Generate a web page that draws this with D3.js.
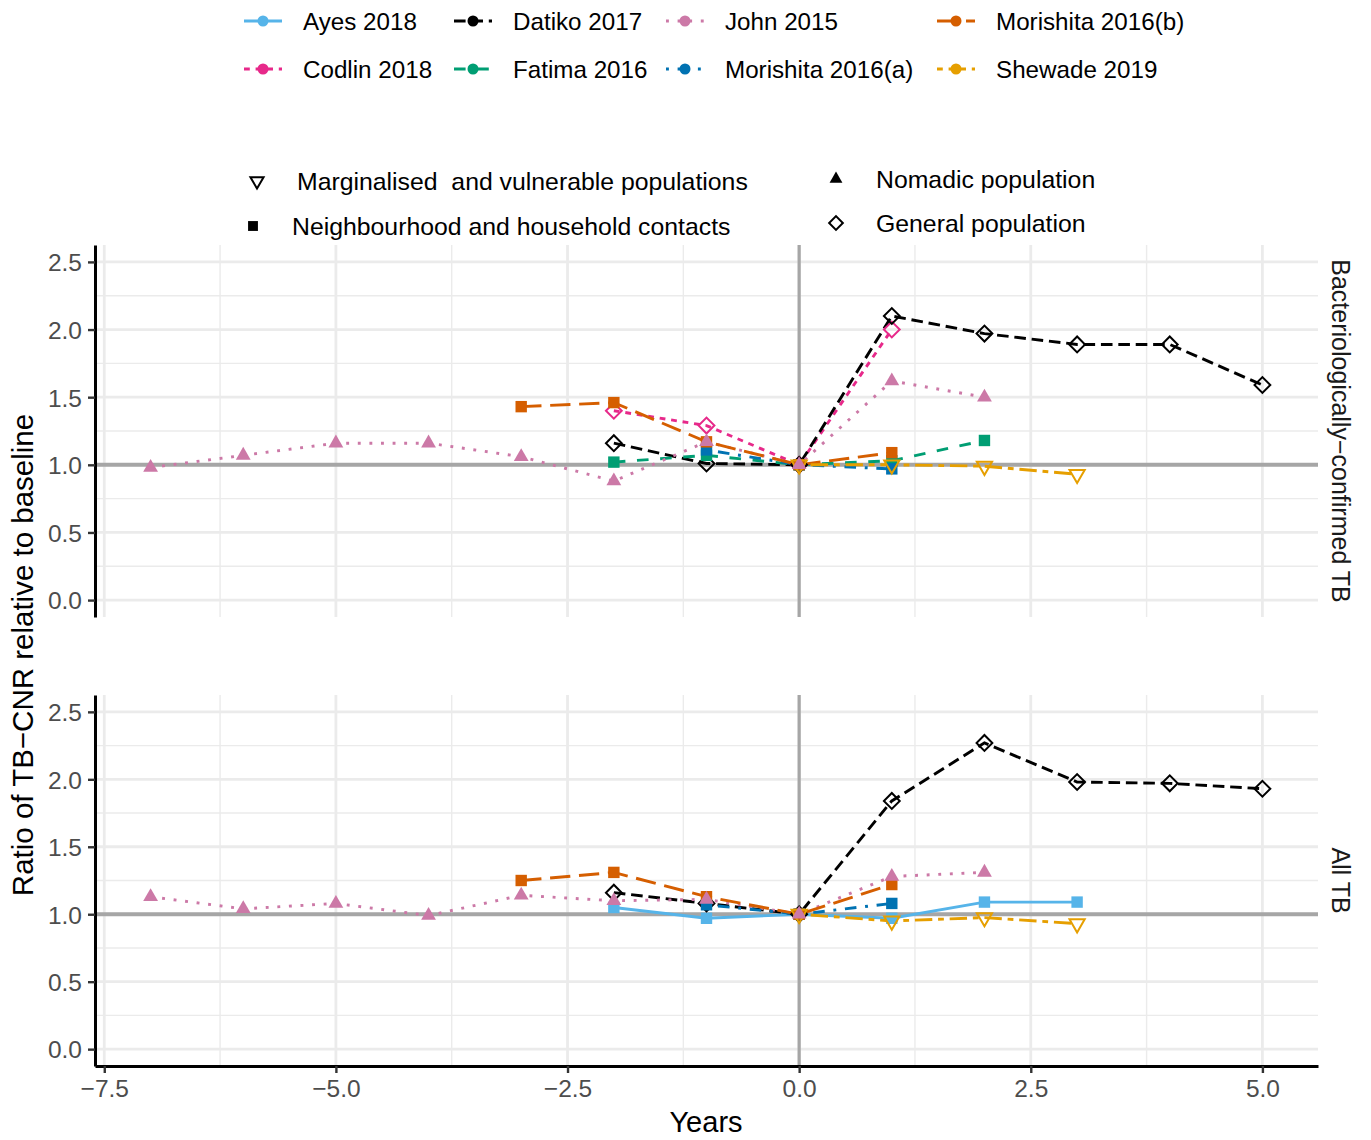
<!DOCTYPE html>
<html>
<head>
<meta charset="utf-8">
<script src="https://cdn.jsdelivr.net/npm/d3@7"></script>
<style>
body { margin: 0; background: #fff; }
svg { font-family: 'Liberation Sans', Arial, sans-serif; }
</style>
</head>
<body>
<div id="chart"></div>
<script>
/* global d3 */

// studies, in legend (alphabetical) order
var studies = ['Ayes 2018', 'Codlin 2018', 'Datiko 2017', 'Fatima 2016', 'John 2015', 'Morishita 2016(a)', 'Morishita 2016(b)', 'Shewade 2019'];
var studyColors = ['#56B4E9', '#E7298A', '#000000', '#009E73', '#CC79A7', '#0072B2', '#D55E00', '#E69F00'];
var studyLinetypes = [[], [2, 2], [4, 2], [4, 4], [1, 3], [1, 3, 4, 3], [7, 3], [2, 2, 6, 2]];
var studyShapes = ['square', 'diamond', 'diamond', 'square', 'triangle', 'square', 'square', 'down'];

var populations = ['Marginalised  and vulnerable populations', 'Nomadic population', 'Neighbourhood and household contacts', 'General population'];
var populationShapes = ['down', 'triangle', 'square', 'diamond'];

var panels = ['Bacteriologically\u2212confirmed TB', 'All TB'];
var xTicks = [-7.5, -5, -2.5, 0, 2.5, 5];
var xMinor = [-6.25, -3.75, -1.25, 1.25, 3.75];
var yTicks = [0, 0.5, 1, 1.5, 2, 2.5];
var yMinor = [0.25, 0.75, 1.25, 1.75, 2.25];

// [year, ratio] pairs, bacteriologically-confirmed TB
var ayesBact = [];
var codlinBact = [[-2, 1.40], [-1, 1.29], [0, 1], [1, 2.00]];
var datikoBact = [[-2, 1.16], [-1, 1.01], [0, 1], [1, 2.10], [2, 1.97], [3, 1.89], [4, 1.89], [5, 1.59]];
var fatimaBact = [[-2, 1.02], [-1, 1.07], [0, 1], [1, 1.03], [2, 1.18]];
var johnBact = [[-7, 0.98], [-6, 1.07], [-5, 1.16], [-4, 1.16], [-3, 1.06], [-2, 0.88], [-1, 1.17], [0, 1], [1, 1.62], [2, 1.50]];
var morishitaABact = [[-1, 1.11], [0, 1], [1, 0.97]];
var morishitaBBact = [[-3, 1.43], [-2, 1.46], [-1, 1.17], [0, 1], [1, 1.09]];
var shewadeBact = [[0, 1], [1, 1.0], [2, 0.99], [3, 0.93]];

// [year, ratio] pairs, all TB
var ayesAll = [[-2, 1.05], [-1, 0.97], [0, 1], [1, 0.97], [2, 1.09], [3, 1.09]];
var codlinAll = [];
var datikoAll = [[-2, 1.16], [-1, 1.08], [0, 1], [1, 1.84], [2, 2.27], [3, 1.98], [4, 1.97], [5, 1.93]];
var fatimaAll = [];
var johnAll = [[-7, 1.13], [-6, 1.04], [-5, 1.08], [-4, 0.99], [-3, 1.14], [-2, 1.10], [-1, 1.11], [0, 1], [1, 1.28], [2, 1.31]];
var morishitaAAll = [[-1, 1.07], [0, 1], [1, 1.08]];
var morishitaBAll = [[-3, 1.25], [-2, 1.31], [-1, 1.13], [0, 1], [1, 1.22]];
var shewadeAll = [[0, 1], [1, 0.95], [2, 0.975], [3, 0.93]];

var bactData = [ayesBact, codlinBact, datikoBact, fatimaBact, johnBact, morishitaABact, morishitaBBact, shewadeBact];
var allData = [ayesAll, codlinAll, datikoAll, fatimaAll, johnAll, morishitaAAll, morishitaBAll, shewadeAll];

var W = 1371,
H = 1140,
lw = 2.9;

var svg = d3.select('#chart').
append('svg').
attr('width', W).
attr('height', H);

var x = d3.scaleLinear().domain([-7.6, 5.6]).range([95, 1318]);
var yScales = [
d3.scaleLinear().domain([-0.125, 2.625]).range([617, 245]),
d3.scaleLinear().domain([-0.125, 2.625]).range([1066, 695])];

var panelData = [bactData, allData];
var pointOrder = [0, 1, 2, 3, 5, 6, 7, 4];

function shapePath(shape, big) {
  var k = big ? 1 : 0.75;
  if (shape === 'square') return d3.symbol(d3.symbolSquare, 130 * k)();
  if (shape === 'triangle') return d3.symbol(d3.symbolTriangle, 95 * k)();
  if (shape === 'diamond') return d3.symbol(d3.symbolSquare, 125 * k)();
  return d3.symbol(d3.symbolTriangle, 100 * k)();
}
function shapeRotate(shape) {
  if (shape === 'diamond') return ' rotate(45)';
  if (shape === 'down') return ' rotate(180)';
  return '';
}
function isOpen(shape) {
  return shape === 'diamond' || shape === 'down';
}
function drawShape(g, shape, cx, cy, color, big) {
  g.append('path').
  attr('d', shapePath(shape, big)).
  attr('transform', 'translate(' + cx + ',' + cy + ')' + shapeRotate(shape)).
  attr('fill', isOpen(shape) ? 'none' : color).
  attr('stroke', isOpen(shape) ? color : 'none').
  attr('stroke-width', 2);
}
function dashOf(i) {
  return studyLinetypes[i].map(d => d * lw).join(' ');
}

panels.forEach(function (label, p) {
  var y = yScales[p];
  var g = svg.append('g');

  // grid
  g.selectAll('.ymin').data(yMinor).enter().append('line').
  attr('x1', x.range()[0]).attr('x2', x.range()[1]).
  attr('y1', d => y(d)).attr('y2', d => y(d)).
  attr('stroke', '#ebebeb').attr('stroke-width', 1.4);
  g.selectAll('.xmin').data(xMinor).enter().append('line').
  attr('x1', d => x(d)).attr('x2', d => x(d)).
  attr('y1', y.range()[0]).attr('y2', y.range()[1]).
  attr('stroke', '#ebebeb').attr('stroke-width', 1.4);
  g.selectAll('.ymaj').data(yTicks).enter().append('line').
  attr('x1', x.range()[0]).attr('x2', x.range()[1]).
  attr('y1', d => y(d)).attr('y2', d => y(d)).
  attr('stroke', '#ebebeb').attr('stroke-width', 2.8);
  g.selectAll('.xmaj').data(xTicks).enter().append('line').
  attr('x1', d => x(d)).attr('x2', d => x(d)).
  attr('y1', y.range()[0]).attr('y2', y.range()[1]).
  attr('stroke', '#ebebeb').attr('stroke-width', 2.8);

  // reference lines
  g.append('line').
  attr('x1', x.range()[0]).attr('x2', x.range()[1]).
  attr('y1', y(1)).attr('y2', y(1)).
  attr('stroke', '#a6a6a6').attr('stroke-width', 4);
  g.append('line').
  attr('x1', x(0)).attr('x2', x(0)).
  attr('y1', y.range()[0]).attr('y2', y.range()[1]).
  attr('stroke', '#a6a6a6').attr('stroke-width', 3.2);

  var line = d3.line().x(d => x(d[0])).y(d => y(d[1]));
  panelData[p].forEach(function (pts, i) {
    if (!pts.length) return;
    g.append('path').
    attr('d', line(pts)).
    attr('fill', 'none').
    attr('stroke', studyColors[i]).
    attr('stroke-width', lw).
    attr('stroke-dasharray', dashOf(i));
  });
  pointOrder.forEach(function (i) {
    panelData[p][i].forEach(function (d) {
      drawShape(g, studyShapes[i], x(d[0]), y(d[1]), studyColors[i], true);
    });
  });

  // y axis
  var ax = g.append('g').
  attr('transform', 'translate(' + x.range()[0] + ',0)').
  call(d3.axisLeft(y).tickValues(yTicks).tickFormat(d3.format('.1f')).tickSize(7).tickSizeOuter(0).tickPadding(6));
  ax.select('.domain').attr('stroke', '#000').attr('stroke-width', 3);
  ax.selectAll('.tick line').attr('stroke', '#333').attr('stroke-width', 2.4);
  ax.selectAll('.tick text').attr('fill', '#4d4d4d').style('font-size', '24.5px').attr('dy', '0.36em');

  // strip
  var cy = (y.range()[0] + y.range()[1]) / 2;
  g.append('text').
  attr('transform', 'translate(1332,' + cy + ') rotate(90)').
  attr('text-anchor', 'middle').
  style('font-size', '25px').
  attr('fill', '#1a1a1a').
  text(label);
});

// x axis (bottom panel)
var xa = svg.append('g').
attr('transform', 'translate(0,' + yScales[1].range()[0] + ')').
call(d3.axisBottom(x).tickValues(xTicks).tickFormat(d3.format('.1f')).tickSize(7).tickSizeOuter(0).tickPadding(5));
xa.select('.domain').attr('stroke', '#000').attr('stroke-width', 3);
xa.selectAll('.tick line').attr('stroke', '#333').attr('stroke-width', 2.4);
xa.selectAll('.tick text').attr('fill', '#4d4d4d').style('font-size', '24.5px').attr('dy', '0.76em');

// axis titles
svg.append('text').
attr('x', 706).attr('y', 1132).
attr('text-anchor', 'middle').
style('font-size', '29px').
text('Years');
svg.append('text').
attr('transform', 'translate(33,655) rotate(-90)').
attr('text-anchor', 'middle').
style('font-size', '29.5px').
text('Ratio of TB\u2212CNR relative to baseline');

// colour / linetype legend, filled by column
var keyX = [244, 454, 666, 937],
keyY = [21, 69];
studies.forEach(function (s, i) {
  var col = Math.floor(i / 2),
  row = i % 2;
  var g = svg.append('g').attr('transform', 'translate(' + keyX[col] + ',' + keyY[row] + ')');
  g.append('line').
  attr('x1', 0).attr('x2', 38).
  attr('stroke', studyColors[i]).
  attr('stroke-width', lw).
  attr('stroke-dasharray', dashOf(i));
  g.append('circle').
  attr('cx', 19).attr('r', 5.5).
  attr('fill', studyColors[i]);
  g.append('text').
  attr('x', 59).attr('dy', '0.36em').
  style('font-size', '24.2px').
  text(s);
});

// shape legend
var shapeKeys = [[257, 181, 297], [836, 179, 876], [253, 226, 292], [836, 223, 876]];
populations.forEach(function (s, i) {
  var k = shapeKeys[i];
  drawShape(svg, populationShapes[i], k[0], k[1], '#000', false);
  svg.append('text').
  attr('x', k[2]).attr('y', k[1]).attr('dy', '0.36em').
  style('font-size', '24.8px').
  style('white-space', 'pre').
  attr('xml:space', 'preserve').
  text(s);
});
</script>
</body>
</html>
